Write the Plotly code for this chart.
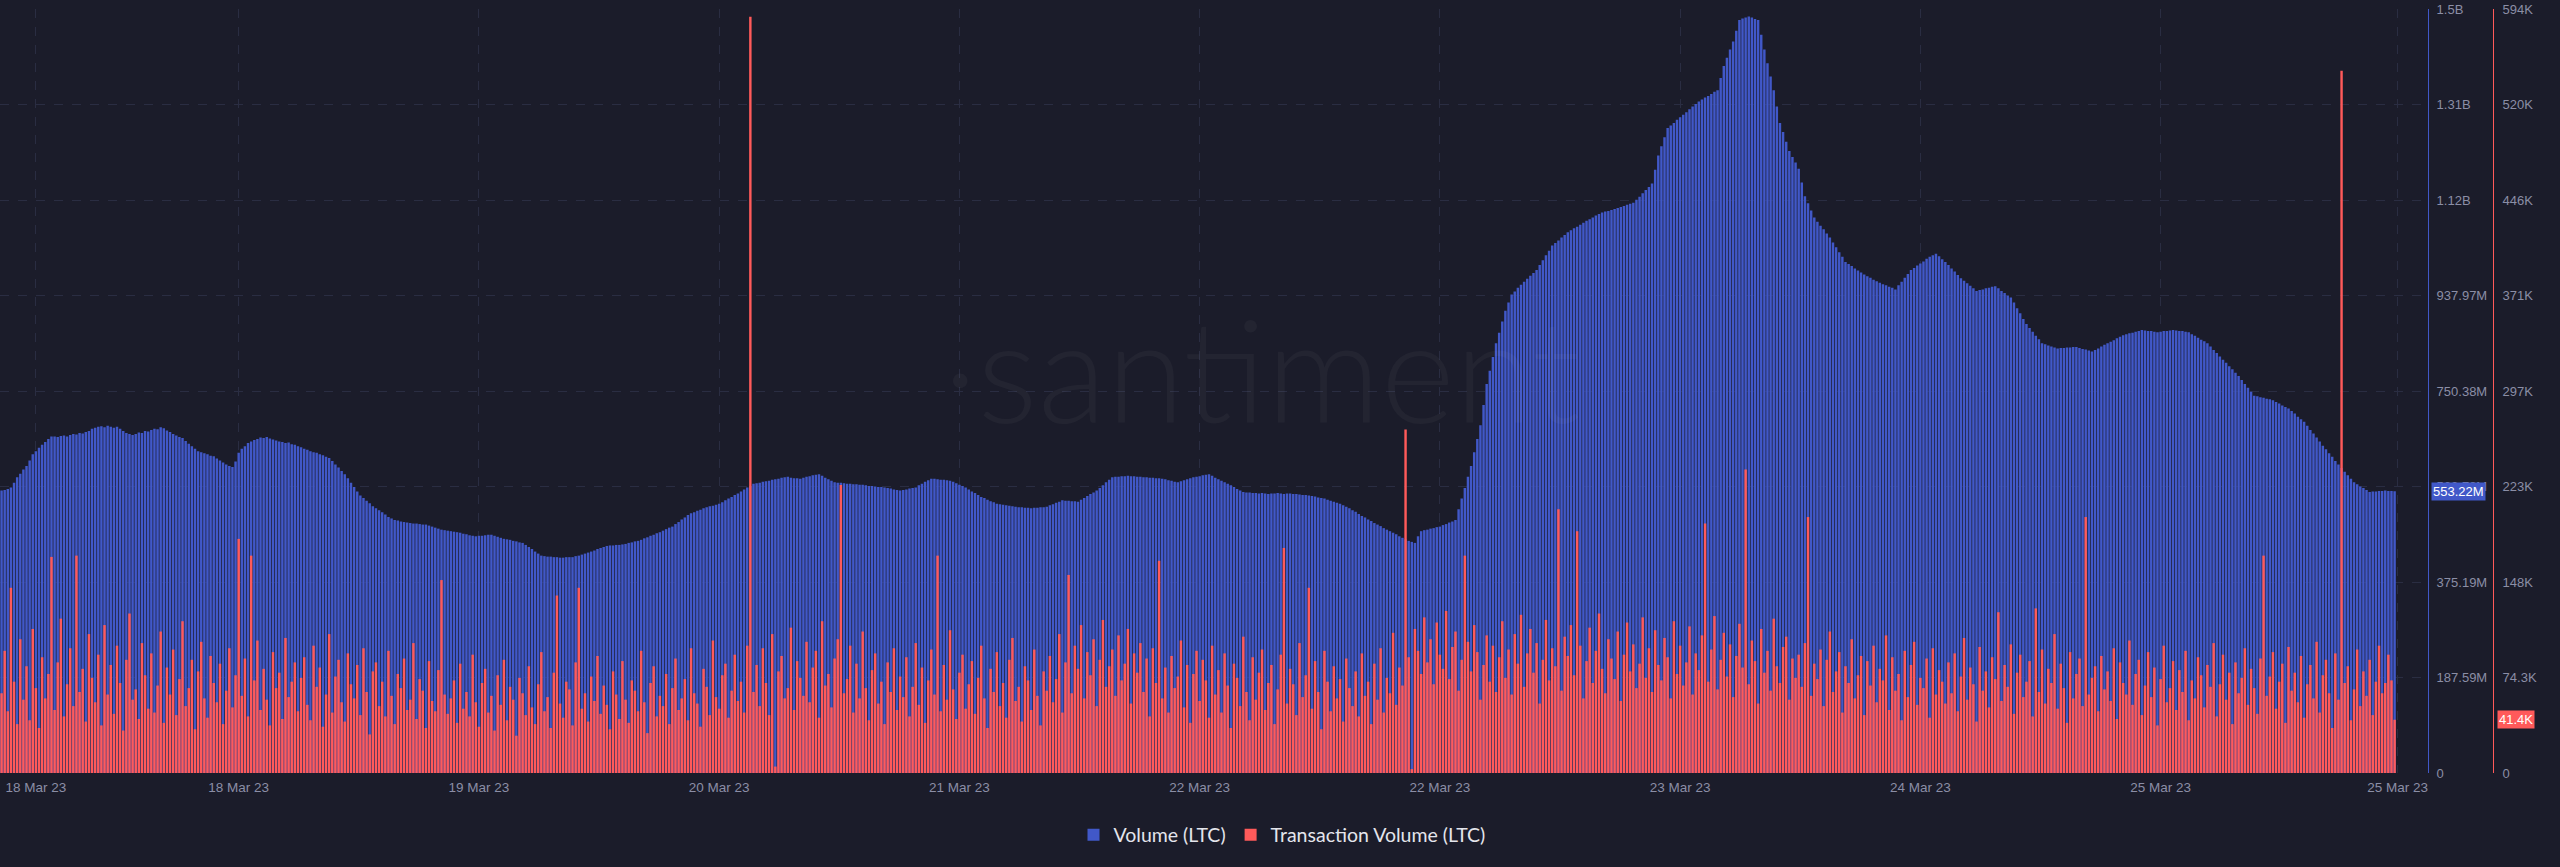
import plotly.graph_objects as go

# Volume (LTC), millions, one bar per 15 minutes
volume_m = [
    555, 556, 558, 561, 570, 581, 588, 596, 603, 614, 626, 632, 639, 645, 650, 656, 661, 661, 660, 662, 663, 661, 664, 666,
    665, 668, 667, 670, 672, 676, 678, 680, 681, 679, 682, 680, 678, 680, 676, 672, 668, 666, 664, 666, 669, 668, 672, 671,
    674, 676, 675, 679, 677, 673, 670, 666, 663, 660, 658, 652, 647, 642, 637, 632, 630, 628, 626, 623, 622, 618, 614, 610,
    606, 603, 601, 612, 629, 637, 642, 648, 651, 654, 656, 659, 658, 660, 657, 655, 653, 651, 650, 648, 649, 646, 645, 642,
    640, 637, 635, 632, 630, 629, 626, 624, 621, 619, 613, 606, 600, 593, 587, 579, 570, 562, 553, 545, 540, 535, 530, 524,
    520, 516, 512, 508, 503, 500, 497, 496, 494, 493, 492, 491, 490, 490, 489, 488, 488, 486, 484, 482, 480, 478, 477, 476,
    475, 474, 473, 472, 470, 469, 467, 466, 465, 466, 466, 467, 468, 468, 466, 464, 462, 460, 459, 458, 456, 455, 453, 452,
    448, 444, 440, 435, 431, 427, 426, 425, 425, 424, 424, 423, 423, 424, 424, 424, 426, 427, 429, 431, 433, 435, 437, 440,
    442, 444, 446, 447, 447, 448, 448, 449, 450, 452, 453, 455, 456, 458, 461, 463, 466, 468, 471, 473, 476, 479, 482, 484,
    489, 493, 498, 502, 507, 510, 512, 515, 517, 520, 522, 524, 525, 527, 529, 532, 536, 539, 542, 546, 549, 553, 557, 561,
    564, 568, 569, 570, 572, 573, 574, 576, 577, 578, 580, 581, 582, 580, 579, 579, 578, 580, 582, 583, 585, 586, 587, 584,
    580, 577, 574, 571, 570, 570, 569, 568, 568, 567, 567, 566, 566, 565, 564, 564, 563, 562, 562, 561, 560, 559, 557, 556,
    555, 556, 557, 559, 560, 561, 565, 568, 572, 575, 578, 578, 577, 576, 576, 575, 574, 572, 569, 566, 564, 561, 557, 553,
    550, 546, 542, 540, 537, 534, 532, 529, 528, 527, 526, 525, 524, 523, 522, 522, 521, 521, 520, 521, 521, 522, 522, 523,
    526, 528, 531, 533, 536, 535, 535, 534, 534, 533, 537, 540, 544, 548, 551, 555, 560, 565, 571, 576, 581, 582, 582, 583,
    583, 584, 583, 583, 582, 582, 581, 581, 580, 580, 579, 579, 578, 577, 575, 574, 572, 571, 573, 575, 577, 579, 581, 582,
    583, 585, 586, 587, 584, 580, 577, 574, 571, 568, 565, 562, 558, 555, 552, 551, 551, 550, 550, 549, 550, 549, 548, 549,
    549, 550, 549, 548, 549, 549, 548, 548, 547, 546, 546, 545, 544, 543, 541, 540, 539, 537, 535, 533, 531, 529, 526, 523,
    520, 516, 513, 509, 505, 502, 498, 495, 491, 488, 485, 481, 478, 475, 472, 469, 465, 462, 459, 456, 454, 452, 465, 475,
    477, 478, 480, 481, 483, 484, 487, 489, 492, 494, 497, 518, 539, 560, 582, 603, 630, 656, 683, 723, 764, 790, 817, 844,
    865, 887, 908, 924, 940, 946, 953, 959, 965, 971, 977, 982, 988, 998, 1007, 1017, 1026, 1036, 1041, 1046, 1052, 1057, 1062, 1066,
    1070, 1073, 1077, 1081, 1085, 1088, 1091, 1095, 1098, 1101, 1103, 1104, 1106, 1108, 1110, 1112, 1114, 1116, 1118, 1120, 1126, 1132, 1139, 1145,
    1151, 1158, 1185, 1213, 1231, 1249, 1267, 1272, 1277, 1283, 1288, 1293, 1298, 1304, 1309, 1314, 1319, 1323, 1327, 1330, 1334, 1338, 1341, 1365,
    1389, 1405, 1421, 1437, 1458, 1479, 1482, 1484, 1486, 1484, 1481, 1479, 1450, 1421, 1394, 1368, 1341, 1309, 1277, 1259, 1240, 1222, 1210, 1199,
    1187, 1160, 1133, 1119, 1105, 1091, 1083, 1075, 1068, 1060, 1052, 1042, 1033, 1023, 1014, 1004, 1000, 996, 991, 987, 983, 979, 976, 973,
    969, 966, 963, 960, 958, 955, 953, 950, 958, 965, 973, 980, 988, 992, 997, 1001, 1005, 1010, 1014, 1017, 1020, 1015, 1009, 1004,
    998, 991, 985, 978, 972, 967, 962, 957, 952, 947, 949, 950, 952, 953, 955, 956, 952, 947, 943, 938, 934, 924, 913, 903,
    892, 882, 874, 867, 859, 852, 844, 842, 840, 838, 836, 834, 835, 835, 836, 836, 837, 837, 835, 833, 832, 830, 828, 831,
    834, 838, 841, 844, 847, 850, 854, 857, 860, 862, 864, 865, 867, 868, 870, 869, 868, 868, 867, 866, 867, 868, 868, 869,
    870, 869, 868, 868, 867, 866, 862, 859, 855, 851, 848, 844, 838, 831, 825, 818, 812, 806, 799, 793, 786, 780, 772, 764,
    757, 749, 741, 740, 738, 737, 735, 734, 732, 729, 726, 722, 719, 716, 711, 706, 700, 695, 690, 682, 674, 667, 659, 651,
    643, 636, 628, 621, 613, 606, 599, 592, 585, 578, 571, 567, 563, 560, 556, 552, 553, 553, 554, 554, 555, 554, 554, 553.22,
]

# Transaction Volume (LTC), thousands
tx_volume_k = [
    62, 95, 48, 144, 71, 38, 104, 57, 83, 41, 112, 66, 35, 90, 58, 77, 168, 49, 86, 120, 44, 69, 97, 52,
    169, 63, 81, 40, 108, 74, 55, 92, 37, 115, 61, 84, 46, 99, 70, 33, 88, 124, 57, 65, 42, 101, 76, 50,
    93, 47, 68, 110, 39, 82, 61, 96, 45, 73, 118, 52, 66, 88, 34, 79, 102, 58, 43, 91, 70, 55, 85, 38,
    64, 97, 51, 76, 182, 60, 89, 44, 169, 72, 103, 49, 81, 57, 37, 94, 66, 78, 42, 105, 59, 71, 86, 48,
    74, 90, 53, 41, 99, 67, 82, 36, 61, 108, 47, 75, 88, 55, 40, 93, 69, 58, 84, 45, 97, 63, 30, 79,
    86, 52, 71, 44, 95, 60, 38, 77, 66, 89, 49, 57, 101, 42, 73, 64, 35, 87, 56, 48, 80, 150, 61, 46,
    58, 72, 39, 85, 50, 63, 44, 92, 55, 36, 70, 81, 47, 60, 33, 76, 53, 88, 41, 67, 57, 29, 74, 62,
    45, 83, 51, 38, 69, 94, 48, 59, 35, 78, 138, 54, 43, 71, 65, 37, 86, 144, 50, 62, 40, 75, 56, 91,
    46, 68, 53, 34, 79, 61, 42, 87, 57, 39, 72, 64, 48, 95, 55, 31, 70, 83, 44, 60, 52, 77, 38, 66,
    89, 49, 58, 73, 41, 97, 62, 54, 36, 81, 67, 45, 103, 59, 50, 76, 85, 43, 64, 92, 56, 71, 47, 99,
    588, 63, 84, 52, 97, 70, 45, 108, 5, 79, 91, 58, 66, 113, 49, 87, 74, 60, 102, 55, 82, 95, 43, 118,
    68, 77, 51, 89, 104, 224, 62, 73, 99, 47, 85, 58, 110, 66, 41, 80, 93, 54, 71, 38, 86, 63, 97, 49,
    75, 59, 90, 44, 67, 101, 53, 82, 39, 72, 96, 61, 169, 48, 84, 57, 111, 65, 42, 78, 92, 50, 69, 87,
    46, 74, 99, 58, 35, 81, 63, 94, 52, 70, 43, 88, 105, 56, 67, 40, 83, 72, 49, 96, 60, 37, 79, 64,
    91, 55, 73, 108, 47, 86, 154, 62, 99, 81, 115, 58, 94, 76, 104, 52, 88, 119, 67, 83, 96, 60, 107, 72,
    85, 112, 54, 93, 78, 101, 63, 89, 44, 97, 70, 165, 58, 82, 47, 91, 66, 75, 103, 51, 84, 39, 77, 95,
    56, 88, 72, 43, 99, 61, 80, 47, 93, 68, 35, 85, 74, 52, 106, 63, 41, 90, 57, 78, 96, 49, 70, 84,
    38, 65, 92, 175, 54, 81, 69, 45, 101, 59, 76, 144, 50, 87, 63, 34, 95, 71, 48, 83, 58, 73, 40, 89,
    66, 52, 79, 44, 93, 60, 71, 38, 85, 57, 97, 47, 74, 62, 109, 53, 82, 68, 267, 90, 3, 112, 95, 77,
    121, 86, 104, 69, 117, 92, 81, 126, 73, 98, 110, 64, 88, 169, 102, 79, 115, 94, 57, 84, 107, 71, 99, 63,
    90, 118, 74, 96, 61, 108, 85, 123, 67, 93, 112, 78, 101, 54, 88, 119, 72, 97, 83, 205, 64, 106, 91, 115,
    76, 188, 99, 58, 87, 113, 70, 95, 124, 81, 62, 104, 89, 73, 110, 56, 92, 117, 79, 100, 66, 85, 121, 74,
    97, 63, 111, 84, 72, 105, 90, 58, 118, 77, 99, 68, 86, 114, 61, 93, 80, 107, 194, 71, 96, 122, 65, 88,
    109, 75, 100, 59, 91, 116, 82, 236, 69, 103, 87, 54, 112, 78, 95, 64, 120, 83, 70, 98, 106, 57, 89, 74,
    92, 67, 101, 199, 60, 85, 73, 96, 52, 88, 110, 63, 79, 94, 47, 83, 70, 104, 58, 76, 91, 45, 87, 68,
    99, 55, 81, 72, 107, 49, 90, 64, 77, 41, 95, 59, 84, 102, 53, 74, 66, 89, 43, 97, 61, 80, 71, 54,
    86, 62, 93, 48, 75, 105, 57, 82, 69, 40, 98, 64, 79, 51, 90, 73, 125, 56, 84, 67, 100, 46, 78, 92,
    59, 71, 87, 44, 128, 63, 96, 54, 81, 70, 108, 50, 85, 66, 39, 94, 58, 77, 89, 52, 199, 61, 74, 83,
    48, 91, 65, 79, 56, 97, 42, 86, 70, 61, 103, 53, 77, 88, 45, 68, 94, 59, 82, 37, 73, 99, 55, 66,
    87, 49, 80, 63, 95, 41, 72, 58, 90, 76, 51, 84, 67, 101, 44, 69, 92, 57, 78, 38, 86, 62, 74, 97,
    53, 81, 66, 46, 89, 169, 60, 75, 94, 50, 71, 85, 39, 98, 64, 78, 55, 91, 43, 69, 84, 58, 102, 47,
    76, 88, 62, 35, 93, 57, 546, 70, 83, 41, 65, 96, 52, 79, 60, 88, 45, 71, 99, 62, 70, 92, 72, 41.4,
]

x_tick_pos = [11, 76, 153, 230, 307, 384, 461, 538, 615, 692, 768]
x_tick_text = ["18 Mar 23", "18 Mar 23", "19 Mar 23", "20 Mar 23", "21 Mar 23", "22 Mar 23",
               "22 Mar 23", "23 Mar 23", "24 Mar 23", "25 Mar 23", "25 Mar 23"]

vol_max = 1500.76e6
vol_tick_text = ["0", "187.59M", "375.19M", "562.78M", "750.38M", "937.97M", "1.12B", "1.31B", "1.5B"]
tx_max = 594e3
tx_tick_text = ["0", "74.3K", "148K", "223K", "297K", "371K", "446K", "520K", "594K"]

last_vol_label = "553.22M"
last_tx_label = "41.4K"

BG = "#1b1c2a"
BLUE = "#4158c8"
RED = "#ff5a5a"
GRID = "#2a2d42"
TICK = "#8b8ea6"

W, H = 2560, 867
L, R, T, B = 0, 67, 9, 94
plot_w = W - L - R
dom_end = 2428 / plot_w

fig = go.Figure()
fig.add_trace(go.Bar(
    x=list(range(len(volume_m))), y=[v * 1e6 for v in volume_m],
    name="Volume (LTC)", marker=dict(color=BLUE, line=dict(width=0)),
    yaxis="y", hoverinfo="skip",
))
fig.add_trace(go.Bar(
    x=list(range(len(tx_volume_k))), y=[v * 1e3 for v in tx_volume_k],
    name="Transaction Volume (LTC)", marker=dict(color=RED, line=dict(width=0)),
    yaxis="y2", hoverinfo="skip",
))

font_fam = "Liberation Sans, Arial, sans-serif"

fig.update_layout(
    width=W, height=H,
    margin=dict(l=L, r=R, t=T, b=B),
    paper_bgcolor=BG, plot_bgcolor=BG,
    barmode="overlay", bargap=0.22,
    showlegend=True,
    legend=dict(orientation="h", x=1282 / plot_w, xanchor="center", y=-62 / 764, yanchor="middle",
                font=dict(family="Lato, sans-serif", size=19.5, color="#e4e5ec"),
                bgcolor="rgba(0,0,0,0)", itemclick=False, itemdoubleclick=False),
    xaxis=dict(
        domain=[0, dom_end], range=[-0.5, 2428 / 3.12 - 0.5],
        tickmode="array", tickvals=x_tick_pos, ticktext=x_tick_text,
        showgrid=True, gridcolor=GRID, griddash="dash", gridwidth=1,
        showline=False, zeroline=False, ticks="",
        tickfont=dict(family=font_fam, size=13.5, color=TICK), ticklabelstandoff=4,
        fixedrange=True,
    ),
    yaxis=dict(
        side="right", anchor="x", range=[0, vol_max],
        tickmode="array", tickvals=[vol_max / 8 * k for k in range(9)], ticktext=vol_tick_text,
        showgrid=True, gridcolor=GRID, griddash="dash", gridwidth=1,
        showline=True, linecolor=BLUE, linewidth=1, zeroline=False, ticks="",
        tickfont=dict(family=font_fam, size=13, color=TICK), ticklabelstandoff=5,
        fixedrange=True,
    ),
    yaxis2=dict(
        side="right", overlaying="y", anchor="free", position=1.0, range=[0, tx_max],
        tickmode="array", tickvals=[tx_max / 8 * k for k in range(9)], ticktext=tx_tick_text,
        showgrid=False, showline=True, linecolor=RED, linewidth=1, zeroline=False, ticks="",
        tickfont=dict(family=font_fam, size=13, color=TICK), ticklabelstandoff=6,
        fixedrange=True,
    ),
    annotations=[
        dict(text="·santiment", xref="paper", yref="paper", x=1262 / plot_w, y=(773 - 368) / 764,
             xanchor="center", yanchor="middle", showarrow=False,
             font=dict(family="Lato, sans-serif", size=142, color="rgba(255,255,255,0.035)", weight=300)),
        dict(text=last_vol_label, xref="paper", yref="y", x=2431 / plot_w, y=float(volume_m[-1]) * 1e6,
             xanchor="left", yanchor="middle", showarrow=False, bgcolor=BLUE, borderpad=1,
             font=dict(family=font_fam, size=13, color="#ffffff")),
        dict(text=last_tx_label, xref="paper", yref="y2", x=2497 / plot_w, y=tx_volume_k[-1] * 1e3,
             xanchor="left", yanchor="middle", showarrow=False, bgcolor=RED, borderpad=1,
             font=dict(family=font_fam, size=13, color="#ffffff")),
    ],
)

fig.write_html("out.html", config={"displayModeBar": False},
               post_script="document.body.style.margin='0px';document.body.style.background='" + BG + "';")
